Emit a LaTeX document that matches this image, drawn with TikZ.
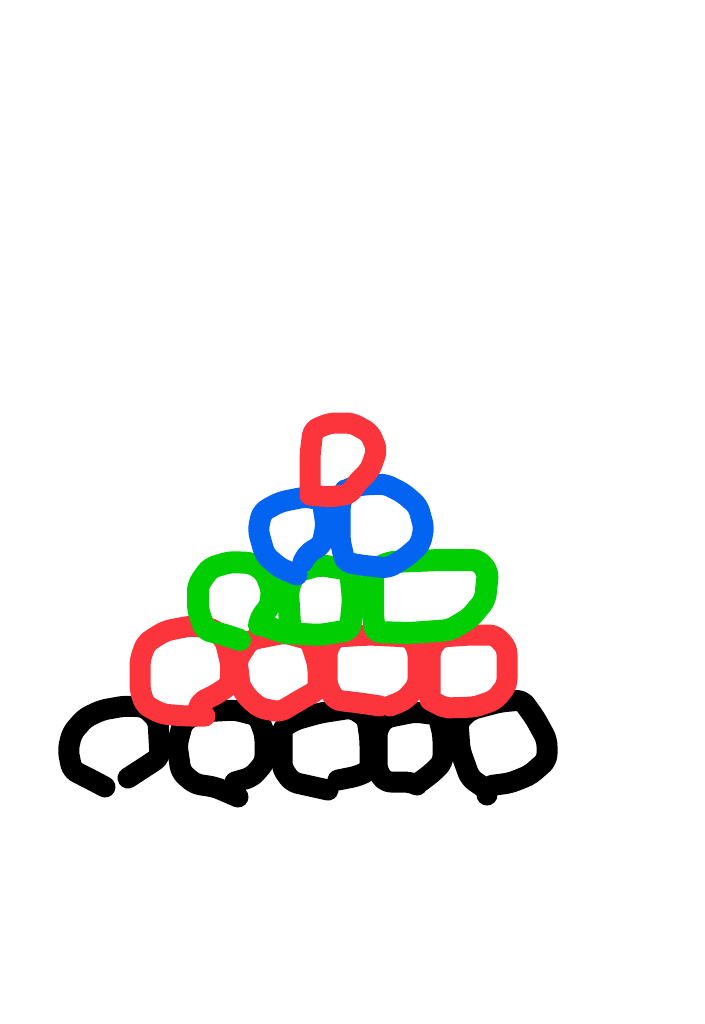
\documentclass[tikz,border=0pt]{standalone}
\usepackage{tikz}

\definecolor{penred}{RGB}{252,52,60}
\definecolor{pengreen}{RGB}{2,206,4}
\definecolor{penblue}{RGB}{4,100,242}

\tikzset{
  pen/.style={line width=21pt, line cap=round, line join=round, rounded corners=6pt},
  blackpen/.style={pen, draw=black},
  redpen/.style={pen, draw=penred},
  greenpen/.style={pen, draw=pengreen, line width=22pt},
  bluepen/.style={pen, draw=penblue}
}

\begin{document}
\begin{tikzpicture}[x=1pt,y=-1pt]
\useasboundingbox (0,0) rectangle (704,1024);

% bottom row, black
\draw[blackpen] (105,787) -- (88,778) -- (72,770) -- (68,750) -- (72,733) -- (85,718) -- (102,710) -- (125,706) -- (145,707) -- (158,720) -- (160,757) -- (148,765) -- (128,778);
\draw[blackpen] (238,797) -- (215,787) -- (195,784) -- (181,772) -- (177,745) -- (183,722) -- (200,712) -- (235,710) -- (258,716) -- (265,735) -- (265,762) -- (252,777) -- (235,782);
\draw[blackpen] (328,790) -- (310,786) -- (292,782) -- (282,768) -- (282,728) -- (295,720) -- (320,713) -- (352,708) -- (367,718) -- (370,740) -- (370,770) -- (358,776) -- (338,780);
\draw[blackpen] (417,785) -- (410,782) -- (385,782) -- (377,770) -- (377,730) -- (385,718) -- (415,712) -- (438,715) -- (443,735) -- (443,762) -- (432,773) -- (420,782);
\draw[blackpen] (487,795) -- (487,786) -- (510,783) -- (530,775) -- (547,760) -- (547,740) -- (535,718) -- (522,700) -- (500,702) -- (470,710) -- (458,722) -- (460,750) -- (470,778) -- (483,787);

% second row, red
\draw[redpen] (205,716) -- (185,716) -- (162,714) -- (145,705) -- (140,690) -- (140,660) -- (146,643) -- (165,631) -- (190,626) -- (212,628) -- (225,640) -- (231,665) -- (230,685) -- (215,695) -- (200,702) -- (198,710);
\draw[redpen] (240,685) -- (237,660) -- (250,640) -- (285,633) -- (310,640) -- (318,665) -- (318,690) -- (300,700) -- (280,712) -- (260,708) -- (247,697) -- (240,685);
\draw[redpen] (380,706) -- (360,703) -- (335,700) -- (327,685) -- (327,650) -- (335,637) -- (370,635) -- (410,637) -- (418,650) -- (418,685) -- (405,700) -- (390,706);
\draw[redpen] (430,700) -- (430,650) -- (440,637) -- (470,635) -- (495,635) -- (507,648) -- (507,685) -- (495,700) -- (475,707) -- (445,708) -- (430,700);

% third row, green
\draw[greenpen] (240,640) -- (222,634) -- (205,630) -- (198,610) -- (198,585) -- (210,568) -- (230,562) -- (252,563) -- (265,572) -- (272,590) -- (270,607) -- (262,615) -- (259,625);
\draw[greenpen] (262,625) -- (285,633) -- (320,635) -- (350,630) -- (353,600) -- (350,570) -- (320,565) -- (295,572) -- (288,590) -- (290,625);
\draw[greenpen] (373,615) -- (375,632) -- (410,633) -- (450,630) -- (470,618) -- (485,600) -- (488,572) -- (478,560) -- (440,560) -- (390,562) -- (373,570) -- (373,615);

% fourth row, blue
\draw[bluepen] (297,575) -- (280,568) -- (265,555) -- (258,530) -- (262,512) -- (280,502) -- (305,497) -- (322,500) -- (326,525) -- (322,545) -- (308,553) -- (303,562);
\draw[bluepen] (350,488) -- (362,485) -- (385,484) -- (403,493) -- (418,506) -- (424,528) -- (420,545) -- (405,558) -- (388,568) -- (360,565) -- (345,562) -- (340,540) -- (340,505) -- (345,490);

% top, red
\draw[redpen] (310,495) -- (330,497) -- (350,494) -- (356,484) -- (370,470) -- (377,450) -- (370,433) -- (352,423) -- (330,423) -- (313,430) -- (310,455) -- (310,495);
\end{tikzpicture}
\end{document}
